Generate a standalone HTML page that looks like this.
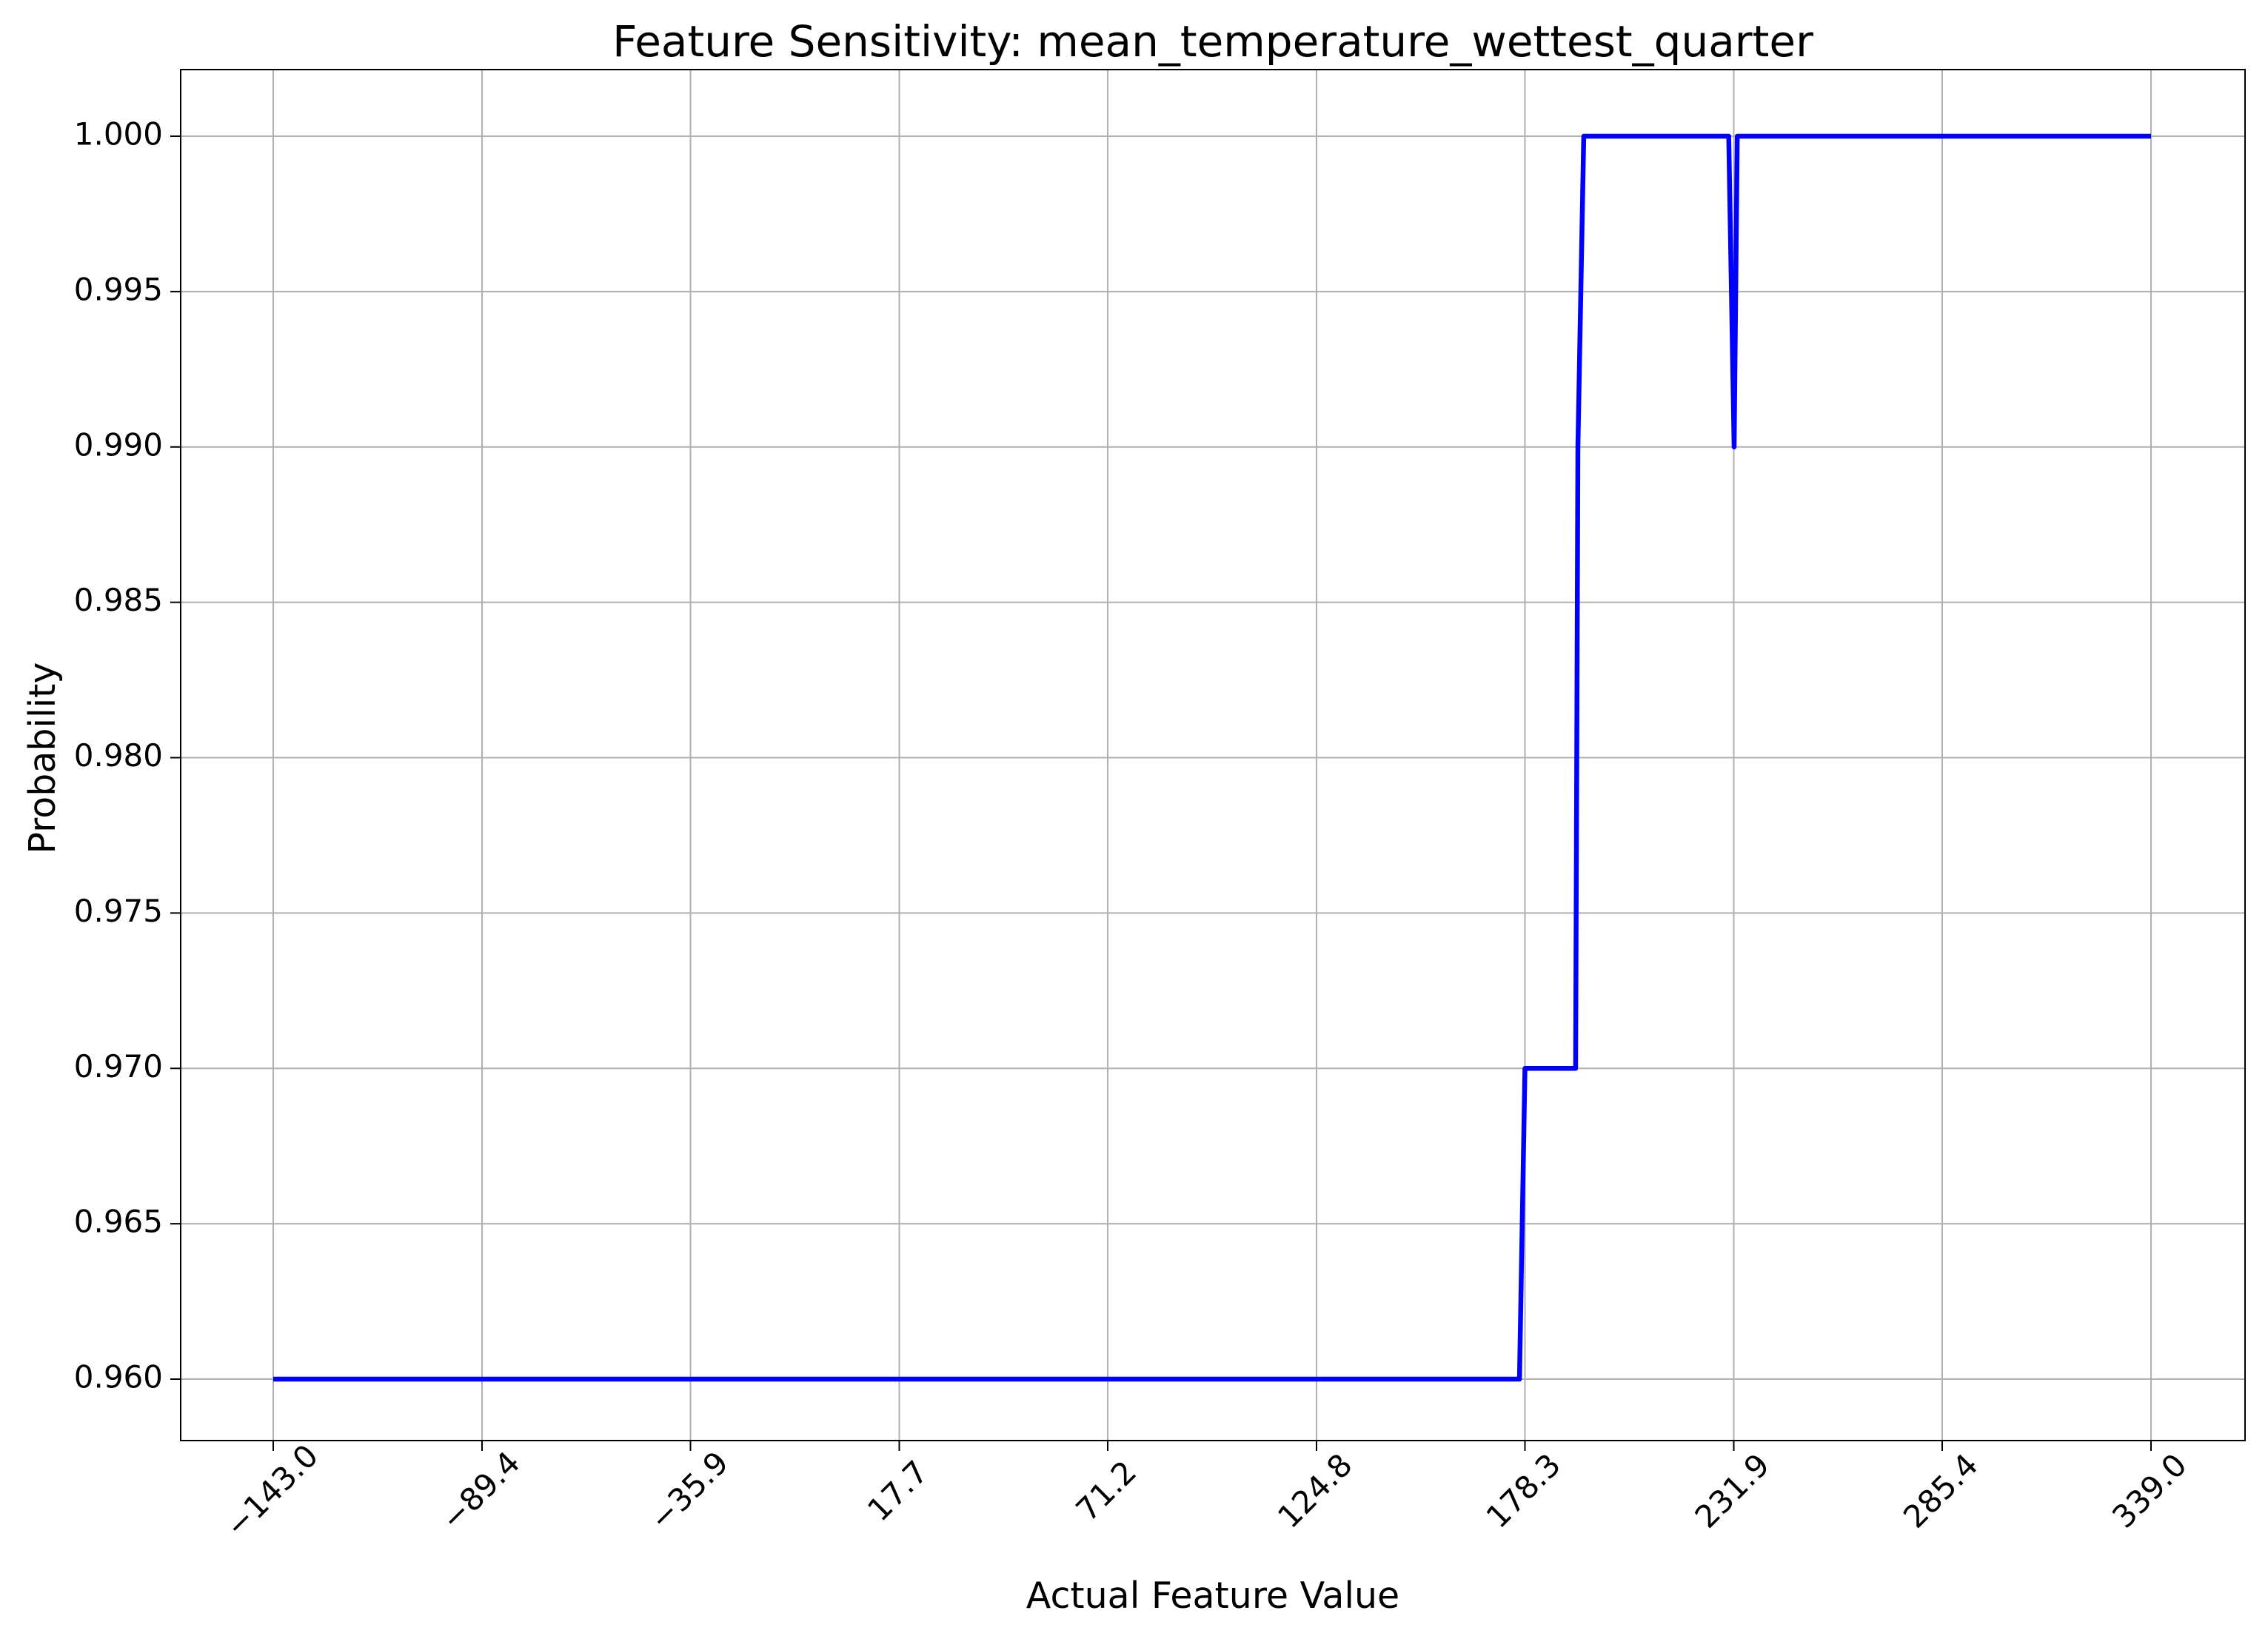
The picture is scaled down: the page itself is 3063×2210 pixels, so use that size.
<!DOCTYPE html>
<html><head><meta charset="utf-8"><style>
html,body{margin:0;padding:0;background:#fff;}
svg{display:block;font-family:"DejaVu Sans","Liberation Sans",sans-serif;}
</style></head>
<body>
<svg id="chart" width="3063" height="2210" viewBox="0 0 3063 2210">
<rect x="0" y="0" width="3063" height="2210" fill="#fff"/>
<g id="grid"></g>
<g id="ticks"></g>
<path id="line" fill="none" stroke="#0000ff" stroke-width="6.5" stroke-linejoin="round"/>
<rect x="244" y="94" width="2788" height="1852" fill="none" stroke="#000" stroke-width="2"/>
<text x="1638" y="76" font-size="58" text-anchor="middle">Feature Sensitivity: mean_temperature_wettest_quarter</text>
<text x="1638" y="2172" font-size="49" text-anchor="middle">Actual Feature Value</text>
<text transform="translate(74,1024) rotate(-90)" font-size="49" text-anchor="middle">Probability</text>
</svg>
<script>
const xTickValues=[-143.0,-89.4,-35.9,17.7,71.2,124.8,178.3,231.9,285.4,339.0];
const xTickLabels=["\u2212143.0","\u221289.4","\u221235.9","17.7","71.2","124.8","178.3","231.9","285.4","339.0"];
const yTickValues=[0.960,0.965,0.970,0.975,0.980,0.985,0.990,0.995,1.000];
const yTickLabels=["0.960","0.965","0.970","0.975","0.980","0.985","0.990","0.995","1.000"];
const xValues=[-143.0,176.9,178.3,191.3,191.9,193.4,230.6,232.0,232.8,339.0];
const probValues=[0.960,0.960,0.970,0.970,0.990,1.000,1.000,0.990,1.000,1.000];

const X0=369,X1=2905,Y0=1863,Y1=184;
function sx(v){return X0+(v-(-143))/(339-(-143))*(X1-X0);}
function sy(v){return Y0+(v-0.96)/(1.0-0.96)*(Y1-Y0);}
const NS="http://www.w3.org/2000/svg";
const grid=document.getElementById('grid'),ticks=document.getElementById('ticks');
xTickValues.forEach((v,i)=>{
  const x=sx(v);
  const l=document.createElementNS(NS,'line');
  l.setAttribute('x1',x);l.setAttribute('x2',x);l.setAttribute('y1',94);l.setAttribute('y2',1946);
  l.setAttribute('stroke','#b0b0b0');l.setAttribute('stroke-width','2');
  
  
  grid.appendChild(l);
  const t=document.createElementNS(NS,'line');
  t.setAttribute('x1',x);t.setAttribute('x2',x);t.setAttribute('y1',1946);t.setAttribute('y2',1960);
  t.setAttribute('stroke','#000');t.setAttribute('stroke-width','2');
  
  
  ticks.appendChild(t);
  const tx=document.createElementNS(NS,'text');
  tx.setAttribute('transform','translate('+x+',2016) rotate(-45)');
  tx.setAttribute('text-anchor','middle');tx.setAttribute('dominant-baseline','middle');
  tx.setAttribute('font-size','42');
  tx.textContent=xTickLabels[i];
  
  
  ticks.appendChild(tx);
});
yTickValues.forEach((v,i)=>{
  const y=sy(v);
  const l=document.createElementNS(NS,'line');
  l.setAttribute('x1',244);l.setAttribute('x2',3032);l.setAttribute('y1',y);l.setAttribute('y2',y);
  l.setAttribute('stroke','#b0b0b0');l.setAttribute('stroke-width','2');
  
  
  grid.appendChild(l);
  const t=document.createElementNS(NS,'line');
  t.setAttribute('x1',230);t.setAttribute('x2',244);t.setAttribute('y1',y);t.setAttribute('y2',y);
  t.setAttribute('stroke','#000');t.setAttribute('stroke-width','2');
  
  
  ticks.appendChild(t);
  const tx=document.createElementNS(NS,'text');
  tx.setAttribute('x',220);tx.setAttribute('y',y);
  tx.setAttribute('text-anchor','end');tx.setAttribute('dominant-baseline','middle');
  tx.setAttribute('font-size','42');
  tx.textContent=yTickLabels[i];
  
  
  ticks.appendChild(tx);
});
let d='';
xValues.forEach((v,i)=>{d+=(i?'L':'M')+sx(v).toFixed(1)+','+sy(probValues[i]).toFixed(1);});
document.getElementById('line').setAttribute('d',d);
</script>
</body></html>
